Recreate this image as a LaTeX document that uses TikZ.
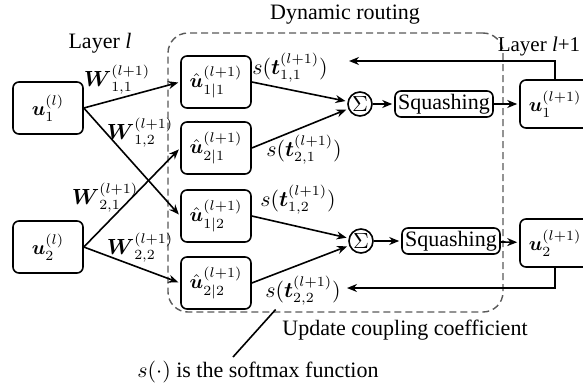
\documentclass[tikz,border=0pt]{standalone}
\usepackage{amsmath}
\usepackage{amssymb}
\usepackage{fontspec}
\setmainfont{Liberation Serif}
\usetikzlibrary{arrows.meta}

\begin{document}
\begin{tikzpicture}
	[x=0.5pt,y=-0.5pt,>={Stealth[length=5pt,width=4pt]},shorten >=1pt,line width=0.8pt,
		font=\fontsize{11}{13}\selectfont,
		box/.style={draw,rounded corners=3pt,minimum width=35pt,minimum height=26pt,inner sep=1pt,font=\fontsize{10}{11}\selectfont},
		sumnode/.style={draw,circle,inner sep=0pt,minimum size=12pt},
		squash/.style={draw,rounded corners=3pt,minimum width=49pt,minimum height=13pt,inner sep=1pt},
		frame/.style={draw,dash pattern=on 3.5pt off 2pt,gray!70!black,line width=0.7pt,rounded corners=10pt,minimum width=167.5pt,minimum height=139.5pt},
		lbl/.style={inner sep=0pt,font=\fontsize{10.5}{12}\selectfont}]

	\useasboundingbox (0,0) rectangle (583,386);

	\node[frame] (dr) at (335.5,172.5) {};

	\node[box]  (l1)  at (48,108)  {$\boldsymbol{u}_1^{(l)}$};
	\node[box]  (l2)  at (48,247)  {$\boldsymbol{u}_2^{(l)}$};
	\node[box]  (h11) at (216,82)  {$\hat{\boldsymbol{u}}_{1|1}^{(l+1)}$};
	\node[box]  (h21) at (216,148) {$\hat{\boldsymbol{u}}_{2|1}^{(l+1)}$};
	\node[box]  (h12) at (216,216) {$\hat{\boldsymbol{u}}_{1|2}^{(l+1)}$};
	\node[box]  (h22) at (216,283) {$\hat{\boldsymbol{u}}_{2|2}^{(l+1)}$};
	\node[sumnode] (sum1) at (360,104) {$\Sigma$};
	\node[sumnode] (sum2) at (361,241) {$\Sigma$};
	\node[squash]  (sq1)  at (444,104) {Squashing};
	\node[squash]  (sq2)  at (451,241) {Squashing};
	\node[box,minimum height=24pt] (o1) at (555,104) {$\boldsymbol{u}_1^{(l+1)}$};
	\node[box,minimum height=24pt] (o2) at (555,243) {$\boldsymbol{u}_2^{(l+1)}$};

	% texts
	\node (dyn)  at (345,15)  {Dynamic routing};
	\node (lay1) at (100,43)  {Layer \textit{l}};
	\node[anchor=east,inner sep=1pt,font=\fontsize{10.5}{12}\selectfont] (lay2) at (583,46) {Layer \textit{l}+1};
	\node (upd)  at (405,330) {Update coupling coefficient};
	\node (sm)   at (258,372) {$s(\cdot)$ is the softmax function};

	\node[lbl] (w11) at (117,80)  {$\boldsymbol{W}_{1,1}^{(l+1)}$};
	\node[lbl] (w12) at (140,133) {$\boldsymbol{W}_{1,2}^{(l+1)}$};
	\node[lbl] (w21) at (105,198) {$\boldsymbol{W}_{2,1}^{(l+1)}$};
	\node[lbl] (w22) at (140,248) {$\boldsymbol{W}_{2,2}^{(l+1)}$};
	\node[lbl] (s11) at (290,68)  {$s(\boldsymbol{t}_{1,1}^{(l+1)})$};
	\node[lbl] (s21) at (304,150) {$s(\boldsymbol{t}_{2,1}^{(l+1)})$};
	\node[lbl] (s12) at (298,200) {$s(\boldsymbol{t}_{1,2}^{(l+1)})$};
	\node[lbl] (s22) at (303,291) {$s(\boldsymbol{t}_{2,2}^{(l+1)})$};

	\coordinate (fb1) at (347,61);
	\coordinate (fb2) at (345,288);
	\coordinate (p1) at (233,357);
	\coordinate (p2) at (277,308);

	\path[->]
	(l1.east) edge (h11.west)
	(l1.east) edge (h12.west)
	(l2.east) edge (h21.west)
	(l2.east) edge (h22.west)

	(h11.east) edge (sum1)
	(h21.east) edge (sum1)
	(h12.east) edge (sum2)
	(h22.east) edge (sum2)

	(sum1) edge (sq1)
	(sq1)  edge (o1)
	(sum2) edge (sq2)
	(sq2)  edge (o2)
	;

	\draw[->] (o1.north) |- (fb1);
	\draw[->] (o2.south) |- (fb2);
	\draw (p1) -- (p2);

\end{tikzpicture}
\end{document}
